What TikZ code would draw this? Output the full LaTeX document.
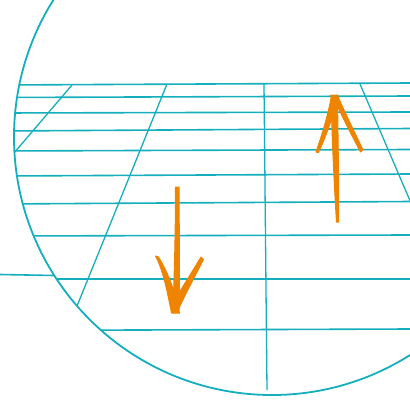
\documentclass[tikz,border=0pt]{standalone}
\definecolor{teal1}{HTML}{14AEBC}
\definecolor{org}{HTML}{EE8400}
\begin{document}
\begin{tikzpicture}[x=1pt,y=-1pt,
  grid/.style={teal1,line width=1.6pt},
  vgrid/.style={teal1,line width=1.3pt},
  rim/.style={teal1,line width=1.8pt},
  brush/.style={fill=org,draw=org,line width=1pt,line join=round}]
\useasboundingbox (0,0) rectangle (410,402);
\clip (0,0) rectangle (410,402);
\coordinate (c) at (272,137);
\begin{scope}
\clip (c) circle[radius=258];
\foreach \a/\b in {85/83, 97.5/96, 113/112, 131/128.5, 151/149.5, 176/174, 204/201.5, 236/235, 279/279, 330.5/329}
  \draw[grid] (0,\a) -- (410,\b);
\draw[vgrid] (72,85) -- (8,160);
\draw[vgrid] (167,84) -- (60,348);
\draw[vgrid] (264,84) -- (267,390);
\draw[vgrid] (360,84) -- (420,224);
\end{scope}
\draw[grid] (0,274.5) -- (54,275.5);
\draw[rim] (c) circle[radius=258];
% down arrow
\fill[brush] (175.5,187) -- (179,187) .. controls (179.5,250) and (179.5,290) .. (179,310) -- (173,310) .. controls (174,280) and (175.5,240) .. (175.5,187) -- cycle;
\fill[brush] (155.5,256) .. controls (163,270) and (167,290) .. (171.5,313) -- (179.5,313) .. controls (175,290) and (167,271) .. (158.5,257) -- cycle;
\fill[brush] (201,257) .. controls (192,272) and (183,286) .. (175,300) -- (178.5,309) .. controls (187,291) and (196,274) .. (203.5,259.5) -- cycle;
% up arrow
\fill[brush] (331,95) -- (337.5,95) .. controls (338,140) and (339,190) .. (338.5,222) -- (336.5,222) .. controls (334.5,190) and (332,140) .. (331,95) -- cycle;
\fill[brush] (331.5,96) .. controls (328,115) and (322,135) .. (316,152) -- (318.5,152.5) .. controls (325.5,137) and (332.5,119) .. (336.5,101) -- cycle;
\fill[brush] (333.5,98) .. controls (342,116) and (352,136) .. (360.5,152) -- (363,150) .. controls (355,133) and (346,115) .. (337.5,95.5) -- cycle;
\end{tikzpicture}
\end{document}
